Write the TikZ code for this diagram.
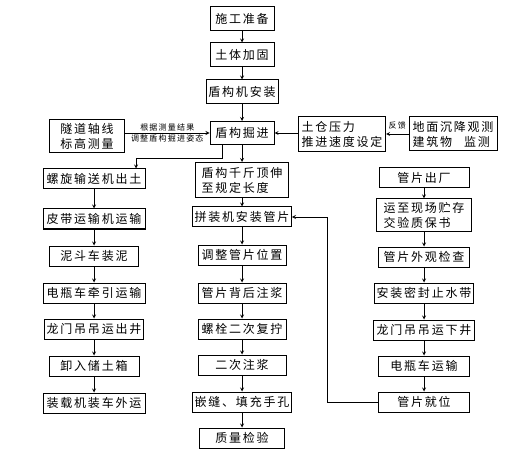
\documentclass[tikz,border=0pt]{standalone}
\usepackage{fontspec}
\setmainfont[LetterSpace=15]{Noto Sans CJK SC}
\usetikzlibrary{shapes.geometric, arrows}
\tikzstyle{process} = [rectangle, minimum height=20pt, inner sep=2pt, text centered, draw=black, line width=1pt, font=\fontsize{12}{15}\selectfont]
\tikzstyle{twoline} = [process, align=left, inner sep=3pt]
\tikzstyle{arrow} = [line width=0.8pt,->,>=stealth]
\tikzstyle{note} = [font=\fontsize{8}{9}\selectfont, inner sep=1pt]

\begin{document}
\begin{tikzpicture}[x=1pt, y=-1pt, node distance=37pt]
        \useasboundingbox (0,0) rectangle (532,454);
        % middle column
        \node (sg) [process, minimum width=64pt, minimum height=24pt] at (242,19) {施工准备};
        \node (jg) [process, minimum width=64pt, minimum height=24pt, below of=sg, yshift=1pt] {土体加固};
        \node (az) [process, minimum width=72pt, minimum height=24pt, below of=jg] {盾构机安装};
        \node (jj) [process, minimum width=64pt, minimum height=23pt, below of=az, yshift=-4pt] {盾构掘进};
        \node (qd) [twoline, minimum width=93pt, minimum height=35pt, below of=jj, yshift=-10pt] {盾构千斤顶伸\\至规定长度};
        \node (pz) [process, minimum width=97pt, below of=qd] {拼装机安装管片};
        \node (tz) [process, minimum width=88pt, below of=pz, yshift=-1pt] {调整管片位置};
        \node (zj) [process, minimum width=88pt, below of=tz, yshift=-1pt] {管片背后注浆};
        \node (lf) [process, minimum width=88pt, below of=zj, yshift=1pt] {螺栓二次复拧};
        \node (ec) [process, minimum width=88pt, below of=lf, yshift=1pt] {二次注浆};
        \node (qf) [process, minimum width=99pt, below of=ec] {嵌缝、填充手孔};
        \node (zl) [process, minimum width=85pt, below of=qf, yshift=1pt] {质量检验};

        % top side boxes
        \node (cl) [process, minimum width=75pt, minimum height=28pt, align=center, inner sep=3pt] at (87,136) {隧道轴线\\标高测量};
        \node (tc) [twoline, minimum width=82pt, minimum height=35pt] at (342,134) {土仓压力\\推进速度设定};
        \node (dm) [twoline, minimum width=88pt, minimum height=34pt] at (453,134) {地面沉降观测\\建筑物\quad 监测};

        % left column
        \node (lx) [process, minimum width=102pt] at (94,179) {螺旋输送机出土};
        \node (pd) [process, minimum width=102pt, below of=lx, yshift=-3pt] {皮带运输机运输};
        \node (nd) [process, minimum width=89pt, below of=pd] {泥斗车装泥};
        \node (dq) [process, minimum width=102pt, below of=nd] {电瓶车牵引运输};
        \node (cj) [process, minimum width=97pt, below of=dq, yshift=1pt] {龙门吊吊运出井};
        \node (ct) [process, minimum width=90pt, below of=cj] {卸入储土箱};
        \node (ww) [process, minimum width=102pt, below of=ct] {装载机装车外运};

        % right column
        \node (cc) [process, minimum width=90pt] at (424,178) {管片出厂};
        \node (zc) [twoline, minimum width=95pt, minimum height=31pt, below of=cc] {运至现场贮存\\交验质保书};
        \node (wg) [process, minimum width=91pt, below of=zc, yshift=-5pt] {管片外观检查};
        \node (zs) [process, minimum width=98pt, below of=wg, yshift=1pt] {安装密封止水带};
        \node (xj) [process, minimum width=101pt, below of=zs] {龙门吊吊运下井};
        \node (yd) [process, minimum width=91pt, below of=xj, yshift=1pt] {电瓶车运输};
        \node (jw) [process, minimum width=91pt, below of=yd, yshift=1pt] {管片就位};

        \draw [arrow] (sg) -- (jg);
        \draw [arrow] (jg) -- (az);
        \draw [arrow] (az) -- (jj);
        \draw [arrow] (jj) -- (qd);
        \draw [arrow] (qd) -- (pz);
        \draw [arrow] (pz) -- (tz);
        \draw [arrow] (tz) -- (zj);
        \draw [arrow] (zj) -- (lf);
        \draw [arrow] (lf) -- (ec);
        \draw [arrow] (ec) -- (qf);
        \draw [arrow] (qf) -- (zl);

        \draw [arrow] (cl.east |- jj) -- node[note, above] {根据测量结果} node[note, below] {调整盾构掘进姿态} (jj.west);
        \draw [arrow] (tc.west |- jj) -- (jj.east);
        \draw [arrow] (dm.west) -- node[note, above, yshift=3pt] {反馈} (tc.east);

        \draw [arrow] ([xshift=-20pt]jj.south) -- ++(0,13) -| ([xshift=42pt]lx.north);
        \draw [arrow] (lx) -- (pd);
        \draw [arrow] (pd) -- (nd);
        \draw [arrow] (nd) -- (dq);
        \draw [arrow] (dq) -- (cj);
        \draw [arrow] (cj) -- (ct);
        \draw [arrow] (ct) -- (ww);

        \draw [arrow] (cc) -- (zc);
        \draw [arrow] (zc) -- (wg);
        \draw [arrow] (wg) -- (zs);
        \draw [arrow] (zs) -- (xj);
        \draw [arrow] (xj) -- (yd);
        \draw [arrow] (yd) -- (jw);
        \draw [arrow] (jw.west) -- ++(-51,0) |- (pz.east);
        \end{tikzpicture}
\end{document}
